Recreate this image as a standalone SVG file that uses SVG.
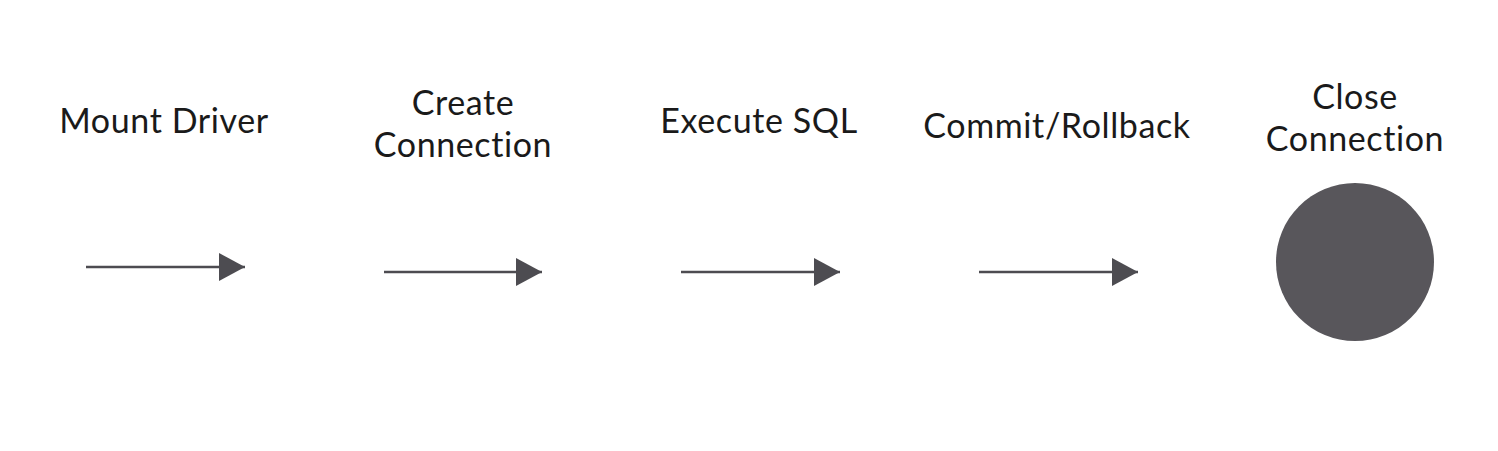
<svg xmlns="http://www.w3.org/2000/svg" width="1498" height="451" viewBox="0 0 1498 451">
<style>
.lbl{font-family:Lato,"Noto Sans",sans-serif;font-size:34px;letter-spacing:0.6px;fill:#1a1a1a;text-anchor:middle}
.ln{stroke:#4d4c51;stroke-width:2.5;fill:none}
</style>
<defs>
<marker id="ah" markerUnits="userSpaceOnUse" markerWidth="27" markerHeight="28" refX="26" refY="14" orient="auto">
<path d="M0,0 L26,14 L0,28 Z" fill="#4d4c51"/>
</marker>
</defs>
<rect width="1498" height="451" fill="#ffffff"/>
<g id="n1"><text class="lbl" x="164" y="133">Mount Driver</text></g>
<g id="n2"><text class="lbl" x="463" y="115">Create</text><text class="lbl" x="463" y="157">Connection</text></g>
<g id="n3"><text class="lbl" x="759" y="133">Execute SQL</text></g>
<g id="n4"><text class="lbl" x="1057" y="138">Commit/Rollback</text></g>
<g id="n5"><text class="lbl" x="1355" y="109">Close</text><text class="lbl" x="1355" y="151">Connection</text>
<circle cx="1355" cy="262" r="79" fill="#58565b"/></g>
<g id="connectors">
<line class="ln" x1="86" y1="267" x2="245" y2="267" marker-end="url(#ah)"/>
<line class="ln" x1="384" y1="272" x2="542" y2="272" marker-end="url(#ah)"/>
<line class="ln" x1="681" y1="272" x2="840" y2="272" marker-end="url(#ah)"/>
<line class="ln" x1="979" y1="272" x2="1138" y2="272" marker-end="url(#ah)"/>
</g>
</svg>
